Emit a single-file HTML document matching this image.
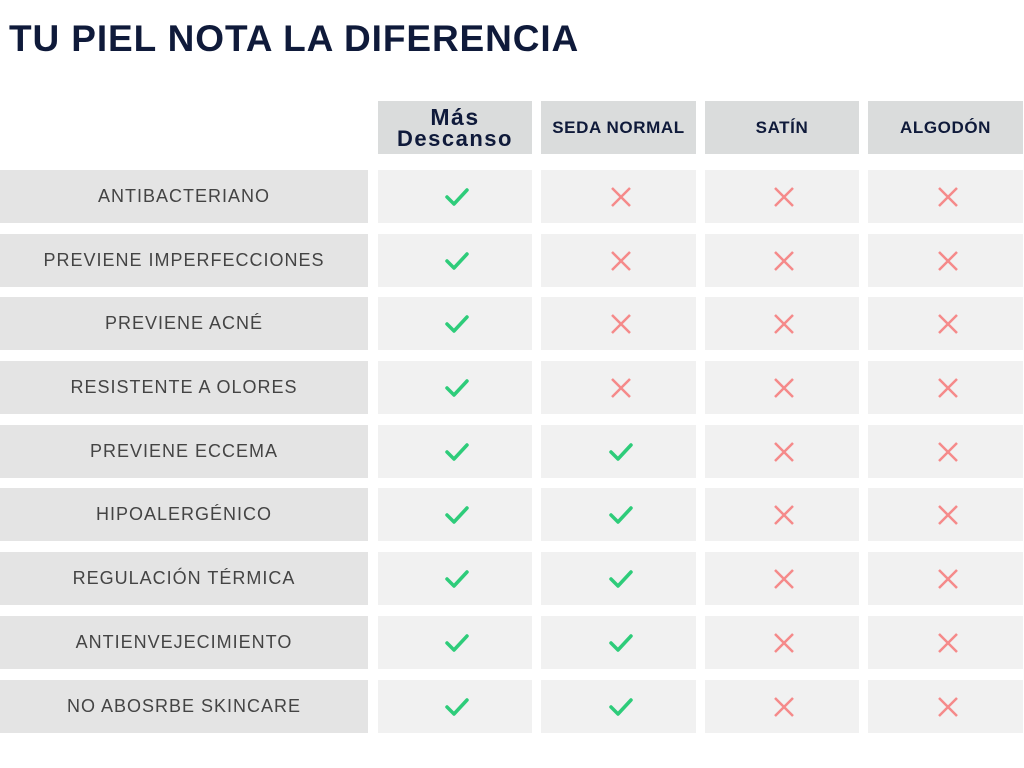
<!DOCTYPE html>
<html><head><style>
body{margin:0;width:1024px;height:768px;background:#fff;position:relative;overflow:hidden;font-family:"Liberation Sans",sans-serif}
.t{position:absolute;left:9px;top:18px;font-size:37px;font-weight:bold;color:#0f1a3a;letter-spacing:.9px}
.c{position:absolute;display:flex;align-items:center;justify-content:center}
.h{background:#dadcdc;color:#0f1a3a;font-weight:bold;font-size:17px;letter-spacing:.6px}
.l{background:#e4e4e4;color:#444;font-size:18px;letter-spacing:1px}
.v{background:#f1f1f1}
</style></head><body>
<div class="t">TU PIEL NOTA LA DIFERENCIA</div>
<div class="c h" style="left:378px;top:101px;width:154px;height:53px;flex-direction:column;font-size:22px;line-height:21px;letter-spacing:1.5px"><span style="font-size:23px">Más</span><span>Descanso</span></div>
<div class="c h" style="left:541px;top:101px;width:155px;height:53px">SEDA NORMAL</div>
<div class="c h" style="left:705px;top:101px;width:154px;height:53px">SATÍN</div>
<div class="c h" style="left:868px;top:101px;width:155px;height:53px">ALGODÓN</div>
<div id="rows"></div>
<script>
var labels=["ANTIBACTERIANO","PREVIENE IMPERFECCIONES","PREVIENE ACNÉ","RESISTENTE A OLORES","PREVIENE ECCEMA","HIPOALERGÉNICO","REGULACIÓN TÉRMICA","ANTIENVEJECIMIENTO","NO ABOSRBE SKINCARE"];
var tops=[170,234,297,361,425,488,552,616,680];
var cols=[[378,154],[541,155],[705,154],[868,155]];
var chk='<svg width="26" height="22" viewBox="0 0 26 22" style="margin-left:4px"><path d="M3 11 L10 18 L23 4" fill="none" stroke="#2ecc7a" stroke-width="3.5" stroke-linecap="round" stroke-linejoin="round"/></svg>';
var x='<svg width="24" height="24" viewBox="0 0 24 24" style="margin-left:4px"><path d="M3 3 L21 21 M21 3 L3 21" stroke="#f58a8a" stroke-width="2.5"/></svg>';
var h='';
for(var i=0;i<9;i++){
 var t=tops[i];
 h+='<div class="c l" style="left:0;top:'+t+'px;width:368px;height:53px">'+labels[i]+'</div>';
 for(var j=0;j<4;j++){
  var ok=j==0||(j==1&&i>=4);
  h+='<div class="c v" style="left:'+cols[j][0]+'px;top:'+t+'px;width:'+cols[j][1]+'px;height:53px">'+(ok?chk:x)+'</div>';
 }
}
document.getElementById('rows').innerHTML=h;
</script>
</body></html>
